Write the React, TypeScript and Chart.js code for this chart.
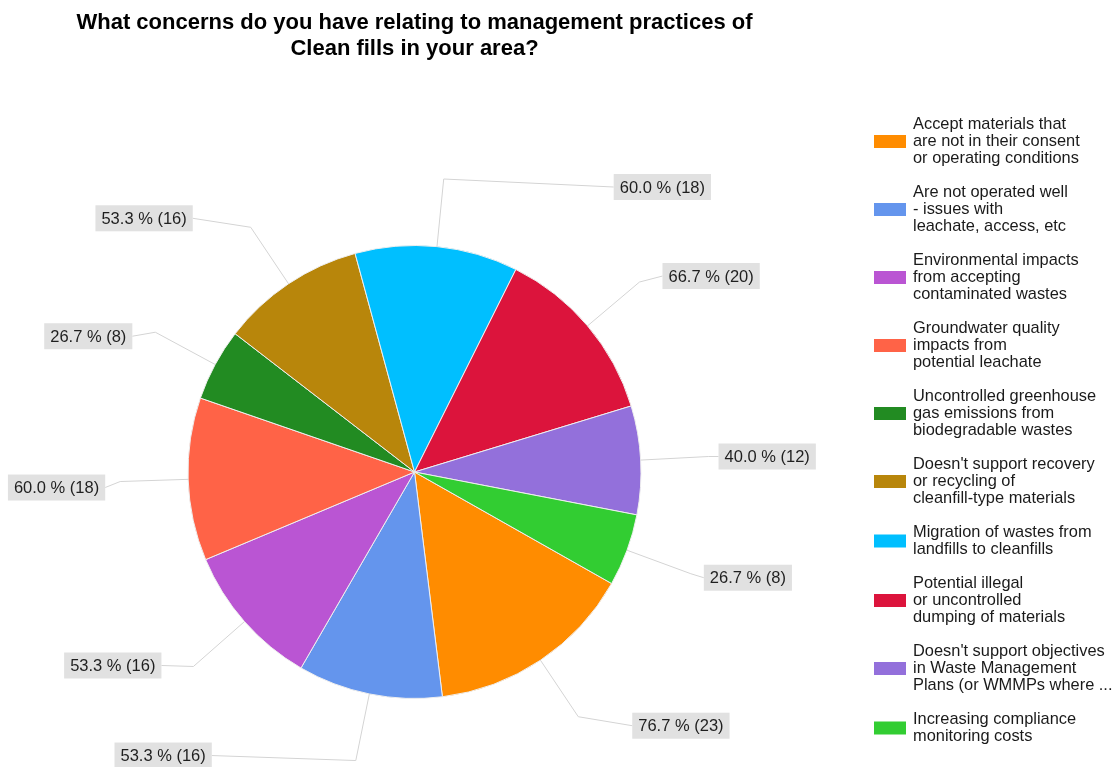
import React, { useEffect, useRef } from 'react';
import { Chart, registerables } from 'chart.js';

Chart.register(...registerables);

const titleLines = [
  'What concerns do you have relating to management practices of',
  'Clean fills in your area?',
];

const categories: string[][] = [
  ['Accept materials that', 'are not in their consent', 'or operating conditions'],
  ['Are not operated well', '- issues with', 'leachate, access, etc'],
  ['Environmental impacts', 'from accepting', 'contaminated wastes'],
  ['Groundwater quality', 'impacts from', 'potential leachate'],
  ['Uncontrolled greenhouse', 'gas emissions from', 'biodegradable wastes'],
  ["Doesn't support recovery", 'or recycling of', 'cleanfill-type materials'],
  ['Migration of wastes from', 'landfills to cleanfills'],
  ['Potential illegal', 'or uncontrolled', 'dumping of materials'],
  ["Doesn't support objectives", 'in Waste Management', 'Plans (or WMMPs where ...'],
  ['Increasing compliance', 'monitoring costs'],
];

const counts = [23, 16, 16, 18, 8, 16, 18, 20, 12, 8];
const percentLabels = ['76.7', '53.3', '53.3', '60.0', '26.7', '53.3', '60.0', '66.7', '40.0', '26.7'];

const sliceColors = [
  '#FF8C00', '#6495ED', '#BA55D3', '#FF6347', '#228B22',
  '#B8860B', '#00BFFF', '#DC143C', '#9370DB', '#32CD32',
];

// layout: horizontal run of leader line and vertical nudge of each label box
const labelNudges: [number, number][] = [
  [54, 9], [144, -5], [32, -1], [15, 6], [23, 4],
  [58, -9], [170, 8], [23, -6], [10, 0], [13, 4],
];

const FONT_FAMILY = '"Liberation Sans", Arial, sans-serif';

const overlayPlugin = {
  id: 'overlay',
  afterDraw(chart: any) {
    const ctx: CanvasRenderingContext2D = chart.ctx;
    const meta = chart.getDatasetMeta(0);
    let cx = 0;
    ctx.save();
    meta.data.forEach((arc: any, i: number) => {
      const { x, y, startAngle, endAngle, outerRadius } = arc.getProps(
        ['x', 'y', 'startAngle', 'endAngle', 'outerRadius'],
        true
      );
      cx = x;
      const mid = (startAngle + endAngle) / 2;
      const p0x = x + Math.cos(mid) * outerRadius;
      const p0y = y + Math.sin(mid) * outerRadius;
      const r1 = outerRadius * 1.3;
      const p1x = x + Math.cos(mid) * r1;
      const p1y = y + Math.sin(mid) * r1;
      const right = Math.cos(mid) >= 0;
      const text = `${percentLabels[i]} % (${counts[i]})`;
      ctx.font = `16.5px ${FONT_FAMILY}`;
      const tw = ctx.measureText(text).width;
      const bw = tw + 12;
      const bh = 26;
      const [dx, dy] = labelNudges[i];
      const cy = p1y + dy;
      const bx = right ? p1x + dx : p1x - dx - bw;
      const edgeX = right ? bx : bx + bw;

      ctx.strokeStyle = '#d4d4d4';
      ctx.lineWidth = 1;
      ctx.beginPath();
      ctx.moveTo(p0x, p0y);
      ctx.lineTo(p1x, p1y);
      ctx.lineTo(edgeX, cy);
      ctx.stroke();

      ctx.fillStyle = '#e1e1e1';
      ctx.fillRect(bx, cy - bh / 2, bw, bh);
      ctx.fillStyle = '#1f1f1f';
      ctx.textAlign = 'center';
      ctx.textBaseline = 'middle';
      ctx.fillText(text, bx + bw / 2, cy + 1);
    });

    // title
    ctx.font = `bold 22px ${FONT_FAMILY}`;
    ctx.fillStyle = '#000000';
    ctx.textAlign = 'center';
    ctx.textBaseline = 'middle';
    titleLines.forEach((line, k) => {
      ctx.fillText(line, cx, 23 + k * 26);
    });

    // legend
    const lineH = 17;
    let top = 116;
    ctx.font = `16.4px ${FONT_FAMILY}`;
    ctx.textAlign = 'left';
    ctx.textBaseline = 'middle';
    categories.forEach((lines, i) => {
      const h = lines.length * lineH;
      const midY = top + h / 2;
      ctx.fillStyle = sliceColors[i];
      ctx.fillRect(874, midY - 6.5, 32, 13);
      ctx.fillStyle = '#1a1a1a';
      lines.forEach((ln, k) => {
        ctx.fillText(ln, 913, top + lineH * k + lineH / 2);
      });
      top += h + lineH;
    });
    ctx.restore();
  },
};

export default function App() {
  const canvasRef = useRef<HTMLCanvasElement | null>(null);

  useEffect(() => {
    document.body.style.margin = '0';
    const canvas = canvasRef.current;
    if (!canvas) return;
    const chart = new Chart(canvas, {
      type: 'pie',
      data: {
        labels: categories.map((c) => c.join(' ')),
        datasets: [
          {
            data: counts,
            backgroundColor: sliceColors,
            borderColor: '#eeeeee',
            borderWidth: 1,
          },
        ],
      },
      options: {
        animation: false,
        responsive: true,
        maintainAspectRatio: false,
        rotation: 119.5,
        layout: { padding: { left: 187, right: 473, top: 245, bottom: 68 } },
        plugins: {
          legend: { display: false },
          title: { display: false },
          tooltip: { enabled: false },
        },
      },
      plugins: [overlayPlugin],
    });
    return () => chart.destroy();
  }, []);

  return (
    <div style={{ width: 1115, height: 767, position: 'relative', background: '#ffffff' }}>
      <canvas ref={canvasRef} />
    </div>
  );
}
